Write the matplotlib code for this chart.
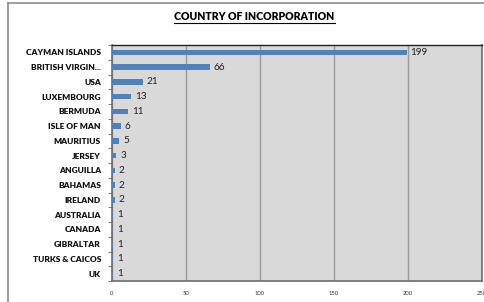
import matplotlib
matplotlib.use("Agg")
import matplotlib.pyplot as plt
from matplotlib.lines import Line2D

# data
countries = ["CAYMAN ISLANDS", "BRITISH VIRGIN...", "USA", "LUXEMBOURG", "BERMUDA",
             "ISLE OF MAN", "MAURITIUS", "JERSEY", "ANGUILLA", "BAHAMAS", "IRELAND",
             "AUSTRALIA", "CANADA", "GIBRALTAR", "TURKS & CAICOS", "UK"]
counts = [199, 66, 21, 13, 11, 6, 5, 3, 2, 2, 2, 1, 1, 1, 1, 1]
x_ticks = [0, 50, 100, 150, 200, 250]

W, H = 485, 302
fig = plt.figure(figsize=(W / 100, H / 100), dpi=100)
fig.patch.set_facecolor("white")

# outer chart border (only left and top visible)
fig.add_artist(Line2D([8 / W, 8 / W], [0, 1 - 3 / H], color="#8c8c8c", lw=1.2,
                      transform=fig.transFigure))
fig.add_artist(Line2D([8 / W, 1], [1 - 3 / H, 1 - 3 / H], color="#8c8c8c", lw=1.2,
                      transform=fig.transFigure))

ax = fig.add_axes([112 / W, 21 / H, 370 / W, 236 / H])
ax.set_facecolor("#d9d9d9")

ypos = list(range(len(countries)))
ax.barh(ypos, counts, height=0.36, color="#4f81bd", zorder=3)
for y, v in zip(ypos, counts):
    ax.text(v + 2.5, y, str(v), va="center", ha="left", fontsize=7.2,
            family="Lato", color="#222222", zorder=4)

ax.set_xlim(0, 250)
ax.set_ylim(len(countries) - 0.5, -0.5)
ax.set_xticks(x_ticks)
ax.set_xticklabels([str(t) for t in x_ticks], fontsize=4.2, family="Lato", color="#333333")
ax.tick_params(axis="x", length=0, pad=7)
ax.set_yticks(ypos)
ax.set_yticklabels(countries, fontsize=6, family="Lato", fontweight="heavy", color="#111111")
ax.tick_params(axis="y", which="major", length=0, pad=8)
ax.set_yticks([i - 0.5 for i in range(len(countries) + 1)], minor=True)
ax.tick_params(axis="y", which="minor", length=3, width=0.8, color="#7f7f7f")

ax.grid(axis="x", color="#9a9a9a", lw=1.0, zorder=1)
for side in ["left", "bottom", "right"]:
    ax.spines[side].set_color("#6e6e6e")
    ax.spines[side].set_linewidth(1.2)
ax.spines["top"].set_color("#222222")
ax.spines["top"].set_linewidth(1.0)

title = fig.text(254.5 / W, 1 - 17 / H, "COUNTRY OF INCORPORATION", ha="center", va="center",
                 fontsize=7.6, family="Lato", fontweight="heavy", color="#000000")
fig.canvas.draw()
bb = title.get_window_extent().transformed(fig.transFigure.inverted())
fig.add_artist(Line2D([bb.x0, bb.x1], [bb.y0 - 0.002, bb.y0 - 0.002], color="black",
                      lw=0.8, transform=fig.transFigure))

fig.savefig("out.png", dpi=100)
